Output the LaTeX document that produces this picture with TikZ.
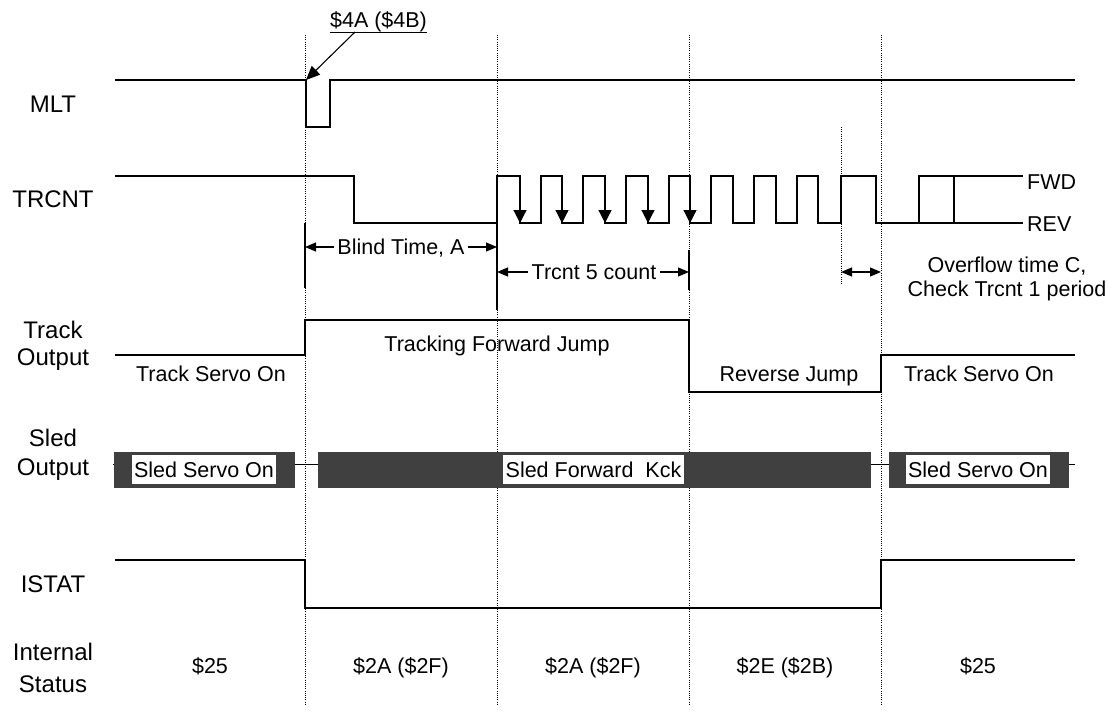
\documentclass[tikz,border=0pt]{standalone}
\usepackage{fontspec}
\setmainfont{Liberation Sans}
\usetikzlibrary{arrows.meta}
\definecolor{bardark}{HTML}{404040}
\begin{document}
\begin{tikzpicture}[x=1pt,y=-1pt,
  wave/.style={line width=1.2pt, line join=miter},
  guide/.style={line width=0.8pt, dash pattern=on 0.9pt off 1.3pt},
  tick/.style={line width=1.1pt},
  sig/.style={font=\fontsize{24}{27}\selectfont, inner sep=0pt, anchor=base},
  ann/.style={font=\fontsize{21.5}{24}\selectfont, inner sep=0pt, anchor=base},
  dimtext/.style={font=\fontsize{21.5}{24}\selectfont, inner ysep=0pt, inner xsep=3pt, text height=15.4pt, text depth=0pt},
  downtip/.style={-{Triangle[length=13pt,width=13pt]}, line width=1.2pt},
  dimtip/.style={-{Triangle[length=11pt,width=9pt]}, line width=1.1pt},
  dimboth/.style={{Triangle[length=11pt,width=9pt]}-{Triangle[length=11pt,width=9pt]}, line width=1.1pt},
  sledlabel/.style={font=\fontsize{21.5}{24}\selectfont, fill=white, inner xsep=2.5pt, inner ysep=0pt, minimum height=29pt, text height=15.4pt, text depth=0pt}
]
\useasboundingbox (0,0) rectangle (1108,713);

% guide lines
\foreach \gx in {305,497,689,881} \draw[guide] (\gx,35) -- (\gx,705);
\draw[guide] (841,127) -- (841,285);

% left signal labels
\node[sig] (lmlt) at (53,112) {MLT};
\node[sig] (ltrcnt) at (53,207) {TRCNT};
\node[sig] (ltrack1) at (53,338) {Track};
\node[sig] (ltrack2) at (53,365) {Output};
\node[sig] (lsled1) at (53,446) {Sled};
\node[sig] (lsled2) at (53,475) {Output};
\node[sig] (listat) at (53,592) {ISTAT};
\node[sig] (lint1) at (53,660) {Internal};
\node[sig] (lint2) at (53,692) {Status};

% MLT
\draw[wave] (115,80) -- (306,80) -- (306,127) -- (330,127) -- (330,80) -- (1075,80);
\node[ann] (s4a) at (378.5,27) {\$4A (\$4B)};
\draw[line width=1pt] (330,32) -- (427,32);
\coordinate (s4afoot) at (355,32);
\coordinate (mltdrop) at (306,80);
\draw[-{Triangle[length=14pt,width=12pt]}, line width=1.1pt] (s4afoot) -- (mltdrop);

% TRCNT
\draw[wave] (115,176) -- (354,176) -- (354,223) -- (497,223) -- (497,176)
  -- (520,176) -- (520,223) -- (541,223) -- (541,176)
  -- (562,176) -- (562,223) -- (583,223) -- (583,176)
  -- (605,176) -- (605,223) -- (626,223) -- (626,176)
  -- (648,176) -- (648,223) -- (669,223) -- (669,176)
  -- (690,176) -- (690,223) -- (711,223) -- (711,176)
  -- (733,176) -- (733,223) -- (754,223) -- (754,176)
  -- (776,176) -- (776,223) -- (797,223) -- (797,176)
  -- (818,176) -- (818,223) -- (841,223) -- (841,176)
  -- (876,176) -- (876,223) -- (1023,223);
\draw[wave] (919,223) -- (919,176) -- (1023,176);
\draw[wave] (954,176) -- (954,223);
\foreach \fx in {520,562,605,648,690} \draw[downtip] (\fx,176) -- (\fx,223);
\node[ann, anchor=base west] (fwd) at (1027,189) {FWD};
\node[ann, anchor=base west] (rev) at (1027,231) {REV};

% measurement ticks and arrows
\draw[tick] (305,223) -- (305,288);
\draw[tick] (497,223) -- (497,310);
\draw[tick] (689,250) -- (689,290);
\node[dimtext] (blind) at (401,247) {Blind Time, A};
\coordinate (blindL) at (305,247);
\coordinate (blindR) at (497,247);
\draw[dimtip] (blind.west) -- (blindL);
\draw[dimtip] (blind.east) -- (blindR);
\node[dimtext] (five) at (594,272) {Trcnt 5 count};
\coordinate (fiveL) at (497,272);
\coordinate (fiveR) at (689,272);
\draw[dimtip] (five.west) -- (fiveL);
\draw[dimtip] (five.east) -- (fiveR);
\coordinate (ovL) at (841,272);
\coordinate (ovR) at (881,272);
\draw[dimboth] (ovL) -- (ovR);
\node[ann] (ov1) at (1007,272) {Overflow time C,};
\node[ann] (ov2) at (1007,296) {Check Trcnt 1 period};

% Track output
\draw[wave] (115,355) -- (305,355) -- (305,320) -- (689,320) -- (689,392) -- (881,392) -- (881,355) -- (1075,355);
\node[ann] (tso1) at (211,381) {Track Servo On};
\node[ann] (tfj) at (497,351) {Tracking Forward Jump};
\node[ann] (trj) at (789,381) {Reverse Jump};
\node[ann] (tso2) at (979,381) {Track Servo On};

% Sled output
\draw[line width=1pt] (113,464) -- (1075,464);
\fill[bardark] (114,452) rectangle (295,488);
\fill[bardark] (318,452) rectangle (871,488);
\fill[bardark] (889,452) rectangle (1069,488);
\node[sledlabel] (sso1) at (204,469.5) {Sled Servo On};
\node[sledlabel, anchor=east] (sfk) at (684,469.5) {Sled Forward\ \ Kck};
\node[sledlabel] (sso2) at (978,469.5) {Sled Servo On};

% ISTAT
\draw[wave] (115,560) -- (305,560) -- (305,608) -- (881,608) -- (881,560) -- (1075,560);

% Internal status values
\node[ann] (st1) at (210,673) {\$25};
\node[ann] (st2) at (401,673) {\$2A (\$2F)};
\node[ann] (st3) at (593,673) {\$2A (\$2F)};
\node[ann] (st4) at (785,673) {\$2E (\$2B)};
\node[ann] (st5) at (978,673) {\$25};
\end{tikzpicture}
\end{document}
